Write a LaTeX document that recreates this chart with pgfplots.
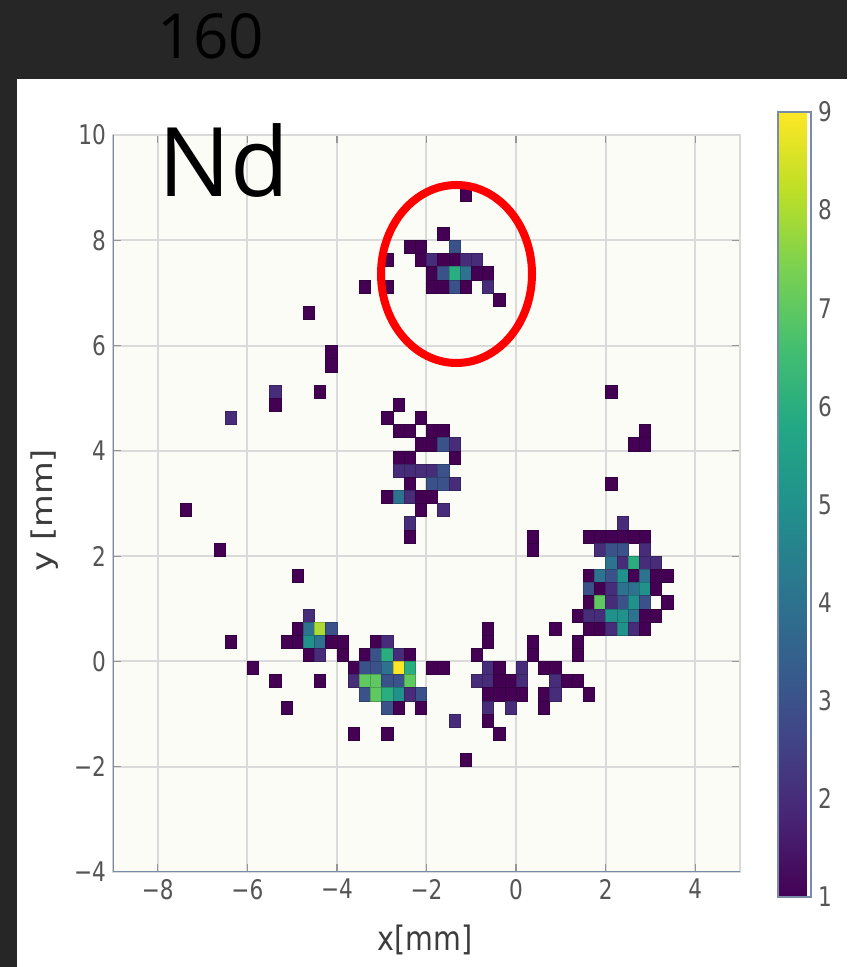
\documentclass[border=0pt]{standalone}
\usepackage{fontspec}
\usepackage{pgfplots}
\pgfplotsset{compat=1.18}
\newfontfamily\tickfont[FakeStretch=0.8]{DejaVu Sans}
\newfontfamily\labfont[FakeStretch=0.85]{DejaVu Sans}
\newfontfamily\labfontN{DejaVu Sans}
\newfontfamily\slidefont{Open Sans}
\definecolor{darkbg}{RGB}{38,38,38}
\definecolor{plotbg}{RGB}{252,252,246}
\definecolor{gridc}{RGB}{218,218,218}
\definecolor{spinec}{RGB}{120,140,170}
\definecolor{tickc}{RGB}{150,150,150}
\definecolor{tlc}{RGB}{85,85,85}
\definecolor{labc}{RGB}{60,60,60}
\pgfdeclareplotmark{cell}{\pgfpathrectangle{\pgfpointorigin}{\pgfpoint{5.598pt}{6.58pt}}\pgfusepathqfillstroke}

\pgfplotstableread{
x y v
-1.25 8.75 1
-1.75 8.0 1
-2.5 7.75 1
-2.25 7.75 1
-1.5 7.75 3
-3.0 7.5 1
-2.25 7.5 1
-2.0 7.5 2
-1.75 7.5 1
-1.5 7.5 1
-1.25 7.5 2
-1.0 7.5 2
-2.0 7.25 1
-1.75 7.25 3
-1.5 7.25 6
-1.25 7.25 4
-1.0 7.25 1
-0.75 7.25 1
-3.5 7.0 1
-3.0 7.0 1
-2.0 7.0 1
-1.75 7.0 1
-1.5 7.0 3
-1.25 7.0 1
-0.75 7.0 2
-0.5 6.75 1
-4.75 6.5 1
-4.25 5.75 1
-4.25 5.5 1
-5.5 5.0 2
-5.5 4.75 1
-4.5 5.0 1
-6.5 4.5 2
-7.5 2.75 1
-6.75 2.0 1
-5.0 1.5 1
-2.75 4.75 1
-3.0 4.5 1
-2.25 4.5 1
-2.75 4.25 1
-2.5 4.25 1
-2.0 4.25 1
-1.75 4.25 1
-2.25 4.0 1
-2.0 4.0 1
-1.75 4.0 3
-1.5 4.0 2
-2.75 3.75 1
-2.5 3.75 1
-1.5 3.75 1
-2.75 3.5 2
-2.5 3.5 2
-2.25 3.5 2
-2.0 3.5 2
-1.75 3.5 3
-2.5 3.25 1
-2.0 3.25 3
-1.75 3.25 3
-1.5 3.25 2
-3.0 3.0 1
-2.75 3.0 4
-2.5 3.0 2
-2.25 3.0 1
-2.0 3.0 1
-2.25 2.75 1
-1.75 2.75 2
-2.5 2.5 2
-2.5 2.25 1
2.0 5.0 1
2.5 4.0 1
2.75 4.0 1
2.75 4.25 1
2.0 3.25 1
2.25 2.5 2
1.5 2.25 1
1.75 2.25 1
2.0 2.25 1
2.25 2.25 1
2.5 2.25 1
2.75 2.25 1
1.75 2.0 2
2.0 2.0 3
2.25 2.0 3
2.75 2.0 2
2.0 1.75 4
2.25 1.75 2
2.5 1.75 6
2.75 1.75 2
3.0 1.75 2
1.5 1.5 1
1.75 1.5 4
2.0 1.5 3
2.25 1.5 5
2.5 1.5 1
2.75 1.5 4
3.0 1.5 1
3.25 1.5 1
1.5 1.25 3
1.75 1.25 1
2.0 1.25 2
2.25 1.25 4
2.5 1.25 4
2.75 1.25 5
3.0 1.25 1
1.5 1.0 1
1.75 1.0 7
2.0 1.0 2
2.25 1.0 3
2.5 1.0 5
2.75 1.0 3
3.25 1.0 1
1.25 0.75 1
1.5 0.75 2
1.75 0.75 2
2.0 0.75 5
2.25 0.75 5
2.5 0.75 4
2.75 0.75 1
3.0 0.75 1
1.5 0.5 1
1.75 0.5 1
2.0 0.5 2
2.25 0.5 5
2.5 0.5 2
2.75 0.5 1
1.25 0.25 1
1.25 0.0 1
0.25 2.25 1
0.25 2.0 1
0.75 0.5 1
-0.75 0.5 1
-0.75 0.25 1
-1.0 0.0 1
0.25 0.25 1
0.25 0.0 1
-2.0 -0.25 1
-1.75 -0.25 1
-0.75 -0.25 2
-0.5 -0.25 1
0.0 -0.25 2
0.5 -0.25 1
0.75 -0.25 1
-1.0 -0.5 2
-0.75 -0.5 2
-0.5 -0.5 1
-0.25 -0.5 1
0.0 -0.5 2
0.75 -0.5 2
1.0 -0.5 1
1.25 -0.5 1
-0.75 -0.75 1
-0.5 -0.75 1
-0.25 -0.75 1
0.0 -0.75 1
0.5 -0.75 1
0.75 -0.75 2
1.5 -0.75 1
-2.25 -0.75 3
-0.75 -1.0 2
-0.25 -1.0 2
0.5 -1.0 1
-2.25 -1.0 1
-0.75 -1.25 1
-1.5 -1.25 2
-0.5 -1.5 1
-1.25 -2.0 1
-4.75 0.75 2
-5.0 0.5 1
-4.75 0.5 4
-4.5 0.5 8
-4.25 0.5 3
-6.5 0.25 1
-5.25 0.25 1
-5.0 0.25 1
-4.75 0.25 5
-4.5 0.25 4
-4.25 0.25 1
-4.0 0.25 1
-3.25 0.25 1
-3.0 0.25 2
-4.75 0.0 1
-4.5 0.0 2
-4.0 0.0 1
-3.5 0.0 1
-3.25 0.0 3
-3.0 0.0 6
-2.75 0.0 2
-2.5 0.0 1
-6.0 -0.25 1
-3.75 -0.25 1
-3.5 -0.25 3
-3.25 -0.25 3
-3.0 -0.25 4
-2.75 -0.25 9
-2.5 -0.25 6
-5.5 -0.5 1
-4.5 -0.5 1
-3.75 -0.5 2
-3.5 -0.5 7
-3.25 -0.5 7
-3.0 -0.5 3
-2.75 -0.5 3
-2.5 -0.5 7
-3.5 -0.75 3
-3.25 -0.75 7
-3.0 -0.75 6
-2.75 -0.75 5
-2.5 -0.75 2
-5.25 -1.0 1
-3.0 -1.0 3
-2.75 -1.0 1
-3.75 -1.5 1
-3.0 -1.5 1
}\cells

\begin{document}
\begin{tikzpicture}
\fill[darkbg] (-56.5pt,-47.5pt) rectangle (367pt,436pt);
\fill[white] (-48pt,-47.5pt) rectangle (367pt,396.5pt);
\begin{axis}[
  scale only axis, width=313.5pt, height=368.5pt,
  xmin=-9, xmax=5, ymin=-4, ymax=10,
  xtick={-8,-6,...,4}, xticklabels={−8,−6,−4,−2,0,2,4},
  ytick={-4,-2,...,10}, yticklabels={−4,−2,0,2,4,6,8,10},
  grid=major, grid style={draw=gridc, line width=1pt},
  tick align=inside, major tick length=4pt,
  tick style={draw=tickc, line width=0.6pt},
  axis line style={draw=gridc, line width=0.75pt},
  axis background/.style={fill=plotbg},
  tick label style={font=\tickfont\fontsize{13.5}{15}\selectfont, text=tlc},
  colormap={viridisx}{rgb255=(68,1,84) rgb255=(72,36,117) rgb255=(65,68,135) rgb255=(53,95,141) rgb255=(42,120,142) rgb255=(33,145,140) rgb255=(34,168,132) rgb255=(68,191,112) rgb255=(122,209,81) rgb255=(189,223,38) rgb255=(253,231,37)},
  point meta min=1, point meta max=9,
  colorbar,
  colorbar style={
    at={(parent axis.south east)}, anchor=south west,
    xshift=10.5pt, yshift=-12.5pt,
    scale only axis, width=16.5pt, height=392.5pt,
    ytick={1,2,...,9}, yticklabels={1,2,3,4,5,6,7,8,9},
    yticklabel style={font=\tickfont\fontsize{13.5}{15}\selectfont, text=tlc},
    axis line style={draw=spinec, line width=0.6pt},
    major tick length=0pt,
  },
]
\addplot[scatter, only marks, mark=cell, point meta=explicit,
  mark options={line width=0.25pt}] table[x=x, y=y, meta=v] {\cells};
\draw[spinec, line width=0.75pt] (rel axis cs:0,1) -- (rel axis cs:0,0) -- (rel axis cs:1,0);
\end{axis}
\draw[red, line width=4pt] (171.75pt,299pt) ellipse [x radius=37.75pt, y radius=44.5pt];
\node[font=\slidefont\fontsize{31}{31}\selectfont, text=black] at (49pt,418pt) {160};
\node[font=\slidefont\fontsize{48}{48}\selectfont, anchor=base west, inner sep=0pt] at (22.5pt,337.5pt) {Nd};
\node[font=\labfont\fontsize{16.8}{18}\selectfont, text=labc] at (156pt,-34pt) {x[mm]};
\node[font=\labfontN\fontsize{16.8}{18}\selectfont, text=labc, xscale=0.85, rotate=90] at (-34pt,181pt) {y [mm]};
\pgfresetboundingbox
\useasboundingbox (-56.5pt,-47.5pt) rectangle (367pt,436pt);
\end{tikzpicture}
\end{document}
